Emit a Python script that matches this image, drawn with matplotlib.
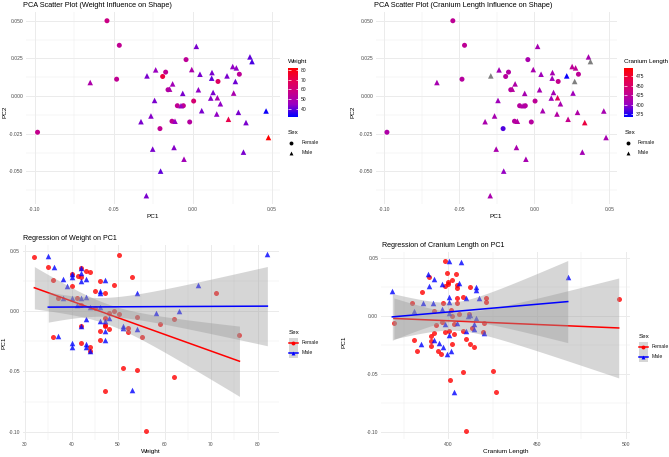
import numpy as np
import matplotlib
matplotlib.use('Agg')
import matplotlib.pyplot as plt
from matplotlib.colors import LinearSegmentedColormap, Normalize
from matplotlib.cm import ScalarMappable
from matplotlib.lines import Line2D
from matplotlib.patches import Rectangle
from matplotlib.ticker import MultipleLocator, FormatStrFormatter

# ---- PCA scores (top panels) ----
pc1_top = [-0.0544, -0.0466, -0.0650, -0.0483, -0.0983, 0.0021, -0.0044, 0.0360, 0.0373, -0.0291,
           -0.0236, -0.0192, -0.0173, -0.0008, 0.0044, 0.0120, 0.0118, 0.0158, 0.0215, 0.0251,
           0.0274, 0.0293, 0.0268, -0.0129, -0.0148, -0.0158, -0.0065, 0.0034, 0.0127, 0.0112,
           0.0154, 0.0173, 0.0257, 0.0004, -0.0243, -0.0099, -0.0076, -0.0061, 0.0055, 0.0150,
           -0.0266, -0.0329, -0.0133, -0.0114, -0.0021, 0.0224, 0.0287, 0.0335, 0.0462, 0.0477,
           -0.0209, -0.0255, -0.0120, -0.0057, 0.0319, -0.0205, -0.0295]
pc2_top = [0.0500, 0.0337, 0.0090, 0.0112, -0.0240, 0.0330, 0.0242, 0.0260, 0.0229, 0.0134,
           0.0174, 0.0130, 0.0159, 0.0176, 0.0145, 0.0156, 0.0119, 0.0097, 0.0134, 0.0196,
           0.0187, 0.0145, 0.0097, 0.0081, 0.0046, 0.0042, 0.0018, 0.0042, 0.0024, -0.0013,
           -0.0011, -0.0051, 0.0020, -0.0033, -0.0029, -0.0064, -0.0064, -0.0064, -0.0097, -0.0119,
           -0.0132, -0.0170, -0.0167, -0.0167, -0.0172, -0.0154, -0.0108, -0.0176, -0.0099, -0.0275,
           -0.0216, -0.0352, -0.0341, -0.0419, -0.0372, -0.0498, -0.0661]
sex_top = ['F', 'F', 'M', 'F', 'F', 'M', 'F', 'M', 'M', 'M',
           'M', 'F', 'F', 'M', 'M', 'M', 'M', 'F', 'M', 'M',
           'M', 'F', 'M', 'M', 'M', 'F', 'M', 'M', 'M', 'M',
           'M', 'M', 'M', 'F', 'M', 'F', 'M', 'F', 'M', 'M',
           'M', 'M', 'F', 'M', 'F', 'M', 'M', 'M', 'M', 'M',
           'F', 'M', 'M', 'M', 'M', 'M', 'M']
weight_top = [58, 55, 50, 55, 56, 42, 54, 40, 38, 42,
              45, 72, 55, 50, 42, 42, 40, 66, 42, 44,
              44, 54, 41, 47, 50, 52, 42, 44, 42, 43,
              48, 44, 49, 62, 42, 55, 45, 55, 42, 44,
              43, 42, 54, 45, 52, 70, 42, 42, 33, 82,
              55, 42, 43, 47, 42, 40, 42]
cranium_top = [425, 425, 410, 420, 415, 410, 412, 410, np.nan, np.nan,
               408, 420, 418, 412, 405, 410, 405, 430, 370, 425,
               425, 425, np.nan, 415, 420, 420, 410, 410, 408, 405,
               455, 412, 405, 425, 405, 420, 415, 420, 410, 418,
               410, 412, 420, 418, 420, 430, 415, 470, 410, 410,
               385, 412, 412, 410, 408, 400, 412]

# ---- Regression data (bottom panels) ----
fem_weight = [32.0, 35.0, 36.0, 40.1, 50.1, 43.1, 44.0, 41.3, 42.0, 46.1, 53.1, 45.1, 47.2, 49.1,
              37.0, 41.1, 42.0, 45.1, 47.1, 48.1, 49.1, 50.1, 47.1, 47.1, 54.1, 52.1, 52.1, 55.1,
              46.1, 36.0, 46.1, 42.0, 44.0, 48.1, 59.1, 62.0, 71.1, 76.1, 51.1, 54.1, 62.1, 47.1,
              56.1, 42.0, 40.0, 42.0, 44.0]
fem_weight_pc1 = [0.0457, 0.0368, 0.0265, 0.0210, 0.0471, 0.0338, 0.0332, 0.0293, 0.0288, 0.0254,
                  0.0288, 0.0171, 0.0151, 0.0221, 0.0115, 0.0115, 0.0054, 0.0032, -0.0051, -0.0009,
                  0.0000, -0.0021, -0.0124, -0.0110, -0.0043, -0.0174, -0.0140, -0.0210, -0.0163,
                  -0.0210, -0.0240, -0.0260, -0.0299, -0.0150, -0.0104, -0.0063, 0.0154, -0.0196,
                  -0.0471, -0.0488, -0.0549, -0.0660, -0.0993, 0.0360, 0.0310, -0.0121, -0.0329]
male_weight = [35.0, 36.2, 38.1, 39.1, 40.0, 40.0, 42.0, 42.0, 42.0, 43.0, 47.2, 46.1, 46.1, 54.1,
               38.1, 40.1, 42.0, 43.0, 41.1, 44.0, 46.1, 48.1, 43.0, 47.1, 51.1, 51.0, 42.0, 47.1,
               37.0, 40.0, 40.0, 43.0, 43.0, 44.0, 47.1, 46.1, 54.0, 82.1, 67.1, 58.2, 63.2, 53.1]
male_weight_pc1 = [0.0463, 0.0368, 0.0268, 0.0215, 0.0310, 0.0290, 0.0360, 0.0321, 0.0254, 0.0268,
                   0.0260, 0.0171, 0.0151, 0.0154, 0.0115, 0.0115, 0.0115, 0.0121, 0.0054, 0.0038,
                   0.0038, -0.0057, -0.0065, -0.0082, -0.0124, -0.0140, -0.0121, -0.0163, -0.0204,
                   -0.0260, -0.0293, -0.0271, -0.0299, -0.0329, -0.0240, -0.0083, -0.0150, 0.0477,
                   0.0221, -0.0010, 0.0004, -0.0654]

fem_cranium = [369.4, 379.4, 380.5, 382.4, 385.4, 389.3, 390.3, 390.3, 390.3, 392.2, 392.2, 393.1,
               394.1, 396.2, 396.4, 397.3, 398.2, 398.2, 398.2, 399.2, 400.1, 400.1, 400.5, 401.2,
               401.4, 402.0, 402.3, 402.3, 403.3, 403.3, 404.2, 405.2, 405.2, 405.2, 405.2, 406.1,
               408.2, 408.2, 408.2, 410.2, 410.2, 411.8, 412.2, 412.2, 413.3, 414.3, 419.3, 420.2,
               421.1, 421.1, 425.2, 427.1, 496.0]
fem_cranium_pc1 = [-0.0060, 0.0112, -0.0211, -0.0301, 0.0202, 0.0329, -0.0174, -0.0214, -0.0257,
                   -0.0148, 0.0037, -0.0077, -0.0301, -0.0332, -0.0051, 0.0112, 0.0470, 0.0255,
                   -0.0137, 0.0368, 0.0292, 0.0270, -0.0128, -0.0552, 0.0052, 0.0000, -0.0243,
                   0.0305, -0.0074, -0.0158, 0.0355, 0.0236, 0.0265, 0.0150, 0.0112, 0.0011,
                   0.0165, -0.0128, -0.0487, -0.0197, -0.0990, 0.0012, 0.0244, -0.0244, -0.0102,
                   -0.0267, -0.0143, -0.0065, 0.0150, 0.0121, -0.0471, -0.0658, 0.0142]
male_cranium = [368.5, 380.5, 384.4, 385.6, 388.4, 389.3, 391.2, 392.2, 392.2, 395.0, 396.4, 396.4,
                397.3, 398.2, 400.5, 400.5, 400.5, 400.5, 400.5, 401.6, 399.4, 403.3, 406.1, 405.2,
                407.3, 410.2, 410.2, 411.0, 412.2, 414.3, 414.7, 415.4, 415.4, 415.4, 417.5, 420.2,
                467.3]
male_cranium_pc1 = [0.0212, 0.0043, -0.0243, 0.0113, 0.0361, 0.0257, 0.0113, 0.0318, -0.0208,
                    -0.0238, 0.0272, 0.0054, -0.0272, -0.0071, 0.0475, 0.0165, 0.0116, 0.0025,
                    -0.0162, -0.0301, -0.0330, -0.0658, 0.0284, -0.0062, 0.0464, 0.0150, -0.0134,
                    0.0000, 0.0006, -0.0074, -0.0117, 0.0244, 0.0218, -0.0018, 0.0150, -0.0152,
                    0.0335]

W, H = 669, 457
FONT = 'Liberation Sans'
plt.rcParams['font.family'] = [FONT, 'DejaVu Sans']
plt.rcParams['axes.unicode_minus'] = False

cmap = LinearSegmentedColormap.from_list(
    'bluered', ['#0000FF', '#9900C2', '#C80088', '#E7004F', '#FF0000'])
NA_COLOR = '#7F7F7F'
SEX_COLORS = {'F': '#FF0000', 'M': '#0000FF'}
GRID = '#EBEBEB'


def box(l, t, r, b):
    """Pixel box (left, top, right, bottom) -> figure fraction rect."""
    return [l / W, 1 - b / H, (r - l) / W, (b - t) / H]


def fx(x):
    return x / W


def fy(y):
    return 1 - y / H


def t975(df):
    """Approximate 97.5% quantile of Student t."""
    z = 1.959964
    return z + (z ** 3 + z) / (4 * df) + (5 * z ** 5 + 16 * z ** 3 + 3 * z) / (96 * df ** 2)


def lm_band(x, y, n=80):
    """Linear fit with 95% confidence band, like geom_smooth(method='lm')."""
    x = np.asarray(x)
    y = np.asarray(y)
    b, a = np.polyfit(x, y, 1)
    xs = np.linspace(x.min(), x.max(), n)
    yhat = a + b * xs
    df = len(x) - 2
    s = np.sqrt(np.sum((y - (a + b * x)) ** 2) / df)
    se = s * np.sqrt(1 / len(x) + (xs - x.mean()) ** 2 / np.sum((x - x.mean()) ** 2))
    t = t975(df)
    return xs, yhat, yhat - t * se, yhat + t * se


def style_axes(ax, xmaj, xmin, ymaj, ymin, xfmt, yfmt):
    for s in ax.spines.values():
        s.set_visible(False)
    ax.xaxis.set_major_locator(MultipleLocator(xmaj))
    ax.xaxis.set_minor_locator(MultipleLocator(xmin))
    ax.yaxis.set_major_locator(MultipleLocator(ymaj))
    ax.yaxis.set_minor_locator(MultipleLocator(ymin))
    ax.xaxis.set_major_formatter(FormatStrFormatter(xfmt))
    ax.yaxis.set_major_formatter(FormatStrFormatter(yfmt))
    ax.tick_params(which='both', length=0, labelsize=3.6, labelcolor='#4D4D4D', pad=2)
    ax.grid(True, which='major', color=GRID, linewidth=0.7)
    ax.grid(True, which='minor', color=GRID, linewidth=0.35)
    ax.set_axisbelow(True)
    ax.margins(0.05)


def pca_panel(rect, values, norm):
    ax = fig.add_axes(rect)
    x = np.array(pc1_top)
    y = np.array(pc2_top)
    colors = [NA_COLOR if np.isnan(v) else cmap(norm(v)) for v in values]
    for sex, marker, size in (('F', 'o', 13), ('M', '^', 16)):
        idx = [i for i, s in enumerate(sex_top) if s == sex]
        ax.scatter(x[idx], y[idx], c=[colors[i] for i in idx], marker=marker, s=size,
                   linewidths=0, zorder=2)
    style_axes(ax, 0.05, 0.025, 0.025, 0.0125, '%.2f', '%.3f')
    return ax


def regression_panel(rect, fx_vals, fy_vals, mx_vals, my_vals):
    ax = fig.add_axes(rect)
    ax.scatter(fx_vals, fy_vals, c=SEX_COLORS['F'], marker='o', s=13, alpha=0.8,
               linewidths=0, zorder=2)
    ax.scatter(mx_vals, my_vals, c=SEX_COLORS['M'], marker='^', s=16, alpha=0.8,
               linewidths=0, zorder=2)
    z = 3
    for sex, xv, yv in (('F', fx_vals, fy_vals), ('M', mx_vals, my_vals)):
        xs, yhat, lo, hi = lm_band(xv, yv)
        ax.fill_between(xs, lo, hi, color='#999999', alpha=0.4, linewidth=0, zorder=z)
        ax.plot(xs, yhat, color=SEX_COLORS[sex], linewidth=1.1, zorder=z + 1)
        z += 2
    return ax


def colorbar(rect, norm, ticks, title, title_xy):
    cax = fig.add_axes(rect)
    cb = fig.colorbar(ScalarMappable(norm=norm, cmap=cmap), cax=cax, ticks=ticks)
    cb.outline.set_visible(False)
    cax.tick_params(length=1.8, width=0.5, color='white', direction='in',
                    left=True, right=True, labelleft=False, labelright=True,
                    labelsize=3.6, labelcolor='#1A1A1A', pad=1.5)
    fig.text(fx(title_xy[0]), fy(title_xy[1]), title, fontsize=4.5, va='center', ha='left')


def sex_legend(x, y, keys=False):
    """Sex legend; x, y = pixel position of title."""
    fig.text(fx(x), fy(y), 'Sex', fontsize=4.5, va='center', ha='left')
    rows = [('F', 'o', 'Female'), ('M', '^', 'Male')]
    for i, (sex, marker, label) in enumerate(rows):
        cy = y + 11 + i * 10
        if keys:
            fig.add_artist(Rectangle((fx(x), fy(cy + 4.7)), 9.5 / W, 9.4 / H,
                                     transform=fig.transFigure, facecolor='#D6D6D6',
                                     edgecolor='none'))
            fig.add_artist(Line2D([fx(x), fx(x + 9.5)], [fy(cy), fy(cy)],
                                  transform=fig.transFigure, color=SEX_COLORS[sex],
                                  linewidth=1.1))
            fig.add_artist(Line2D([fx(x + 4.75)], [fy(cy)], transform=fig.transFigure,
                                  marker=marker, markersize=2.8, color=SEX_COLORS[sex],
                                  linestyle='none', markeredgewidth=0))
            tx = x + 13
        else:
            fig.add_artist(Line2D([fx(x + 3)], [fy(cy)], transform=fig.transFigure,
                                  marker=marker, markersize=2.8, color='black',
                                  linestyle='none', markeredgewidth=0))
            tx = x + 13.5
        fig.text(fx(tx), fy(cy), label, fontsize=3.7, va='center', ha='left', color='#1A1A1A')


fig = plt.figure(figsize=(W / 100, H / 100), dpi=100)

weight_norm = Normalize(min(fem_weight + male_weight), max(fem_weight + male_weight))
cranium_norm = Normalize(min(fem_cranium + male_cranium), max(fem_cranium + male_cranium))

# top-left
pca_panel(box(26, 12, 280, 204.4), weight_top, weight_norm)
fig.text(fx(23.3), fy(5.5), 'PCA Scatter Plot (Weight Influence on Shape)', fontsize=5.3, va='center')
fig.text(fx(153), fy(217), 'PC1', fontsize=4.6, ha='center', va='center')
fig.text(fx(5), fy(112), 'PC2', fontsize=4.6, ha='center', va='center', rotation=90)
colorbar(box(288.3, 67.7, 298.3, 116.7), weight_norm, [40, 50, 60, 70, 80], 'Weight', (288, 62))
sex_legend(288, 132)

# top-right
pca_panel(box(376, 12, 617, 204.4), cranium_top, cranium_norm)
fig.text(fx(374.3), fy(5.5), 'PCA Scatter Plot (Cranium Length Influence on Shape)', fontsize=5.3, va='center')
fig.text(fx(496), fy(217), 'PC1', fontsize=4.6, ha='center', va='center')
fig.text(fx(353), fy(112), 'PC2', fontsize=4.6, ha='center', va='center', rotation=90)
colorbar(box(623.7, 68.3, 633.3, 116.7), cranium_norm, [375, 400, 425, 450, 475],
         'Cranium Length', (623.5, 62))
sex_legend(624.5, 132)

# bottom-left
ax3 = regression_panel(box(22.7, 245.4, 279, 439.5), fem_weight, fem_weight_pc1,
                       male_weight, male_weight_pc1)
style_axes(ax3, 10, 5, 0.05, 0.025, '%d', '%.2f')
fig.text(fx(22.7), fy(239), 'Regression of Weight on PC1', fontsize=5.1, va='center')
fig.text(fx(151), fy(452), 'Weight', fontsize=4.6, ha='center', va='center')
fig.text(fx(4), fy(343), 'PC1', fontsize=4.6, ha='center', va='center', rotation=90)
sex_legend(288.5, 332, keys=True)

# bottom-right
ax4 = regression_panel(box(381, 252, 630, 439.4), fem_cranium, fem_cranium_pc1,
                       male_cranium, male_cranium_pc1)
style_axes(ax4, 50, 25, 0.05, 0.025, '%d', '%.2f')
fig.text(fx(381.7), fy(245.7), 'Regression of Cranium Length on PC1', fontsize=5.1, va='center')
fig.text(fx(505.5), fy(452), 'Cranium Length', fontsize=4.6, ha='center', va='center')
fig.text(fx(344), fy(342), 'PC1', fontsize=4.6, ha='center', va='center', rotation=90)
sex_legend(638.5, 336, keys=True)

fig.savefig('out.png', dpi=100)
